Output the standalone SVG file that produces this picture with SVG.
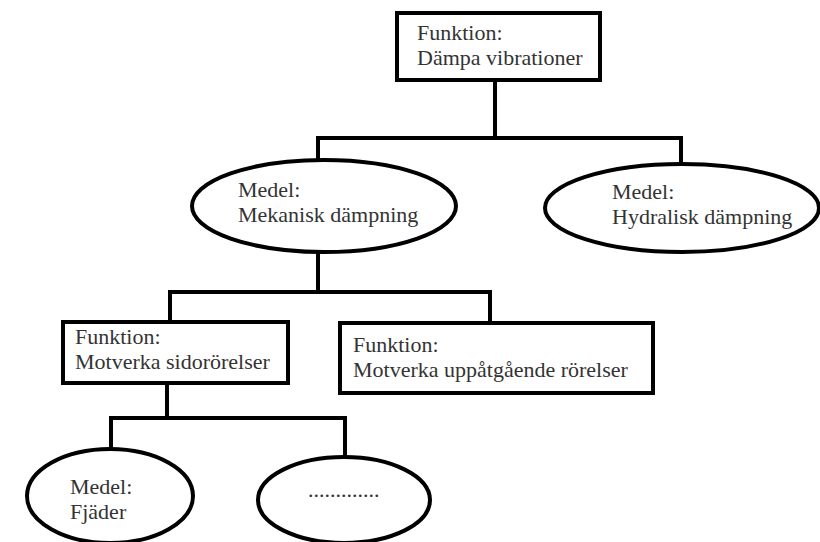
<svg xmlns="http://www.w3.org/2000/svg" width="820" height="542" viewBox="0 0 820 542">
<style>
.n{fill:#fff;stroke:#000;stroke-width:4}
.c{fill:none;stroke:#000;stroke-width:4;stroke-linecap:square}
text{font-family:"Liberation Serif","Times New Roman",serif;font-size:22px;fill:#333}
</style>
<rect width="820" height="542" fill="#fff"/>
<g id="connectors">
<path class="c" d="M495 80V138M318 138H681M318 138V160M681 138V165"/>
<path class="c" d="M318 252V292M170 292H490M170 292V322M490 292V323"/>
<path class="c" d="M167 383V418M111 418H345M111 418V450M345 418V457"/>
</g>
<g id="f1">
<rect class="n" x="397" y="13" width="203" height="67"/>
<text x="417" y="40">Funktion:</text>
<text x="417" y="65">Dämpa vibrationer</text>
</g>
<g id="m1">
<ellipse class="n" cx="324" cy="206" rx="132" ry="46"/>
<text x="238" y="197">Medel:</text>
<text x="238" y="222">Mekanisk dämpning</text>
</g>
<g id="m2">
<ellipse class="n" cx="682" cy="208" rx="137" ry="44"/>
<text x="612" y="199">Medel:</text>
<text x="612" y="224">Hydralisk dämpning</text>
</g>
<g id="f2">
<rect class="n" x="63" y="322" width="225" height="61"/>
<text x="75" y="344">Funktion:</text>
<text x="75" y="369">Motverka sidorörelser</text>
</g>
<g id="f3">
<rect class="n" x="340" y="323" width="313" height="70"/>
<text x="353" y="352">Funktion:</text>
<text x="353" y="377">Motverka uppåtgående rörelser</text>
</g>
<g id="m3">
<ellipse class="n" cx="110" cy="496" rx="83" ry="47"/>
<text x="70" y="494">Medel:</text>
<text x="70" y="519">Fjäder</text>
</g>
<g id="m4">
<ellipse class="n" cx="344" cy="500" rx="86" ry="43"/>
<text x="308" y="497">.............</text>
</g>
</svg>
